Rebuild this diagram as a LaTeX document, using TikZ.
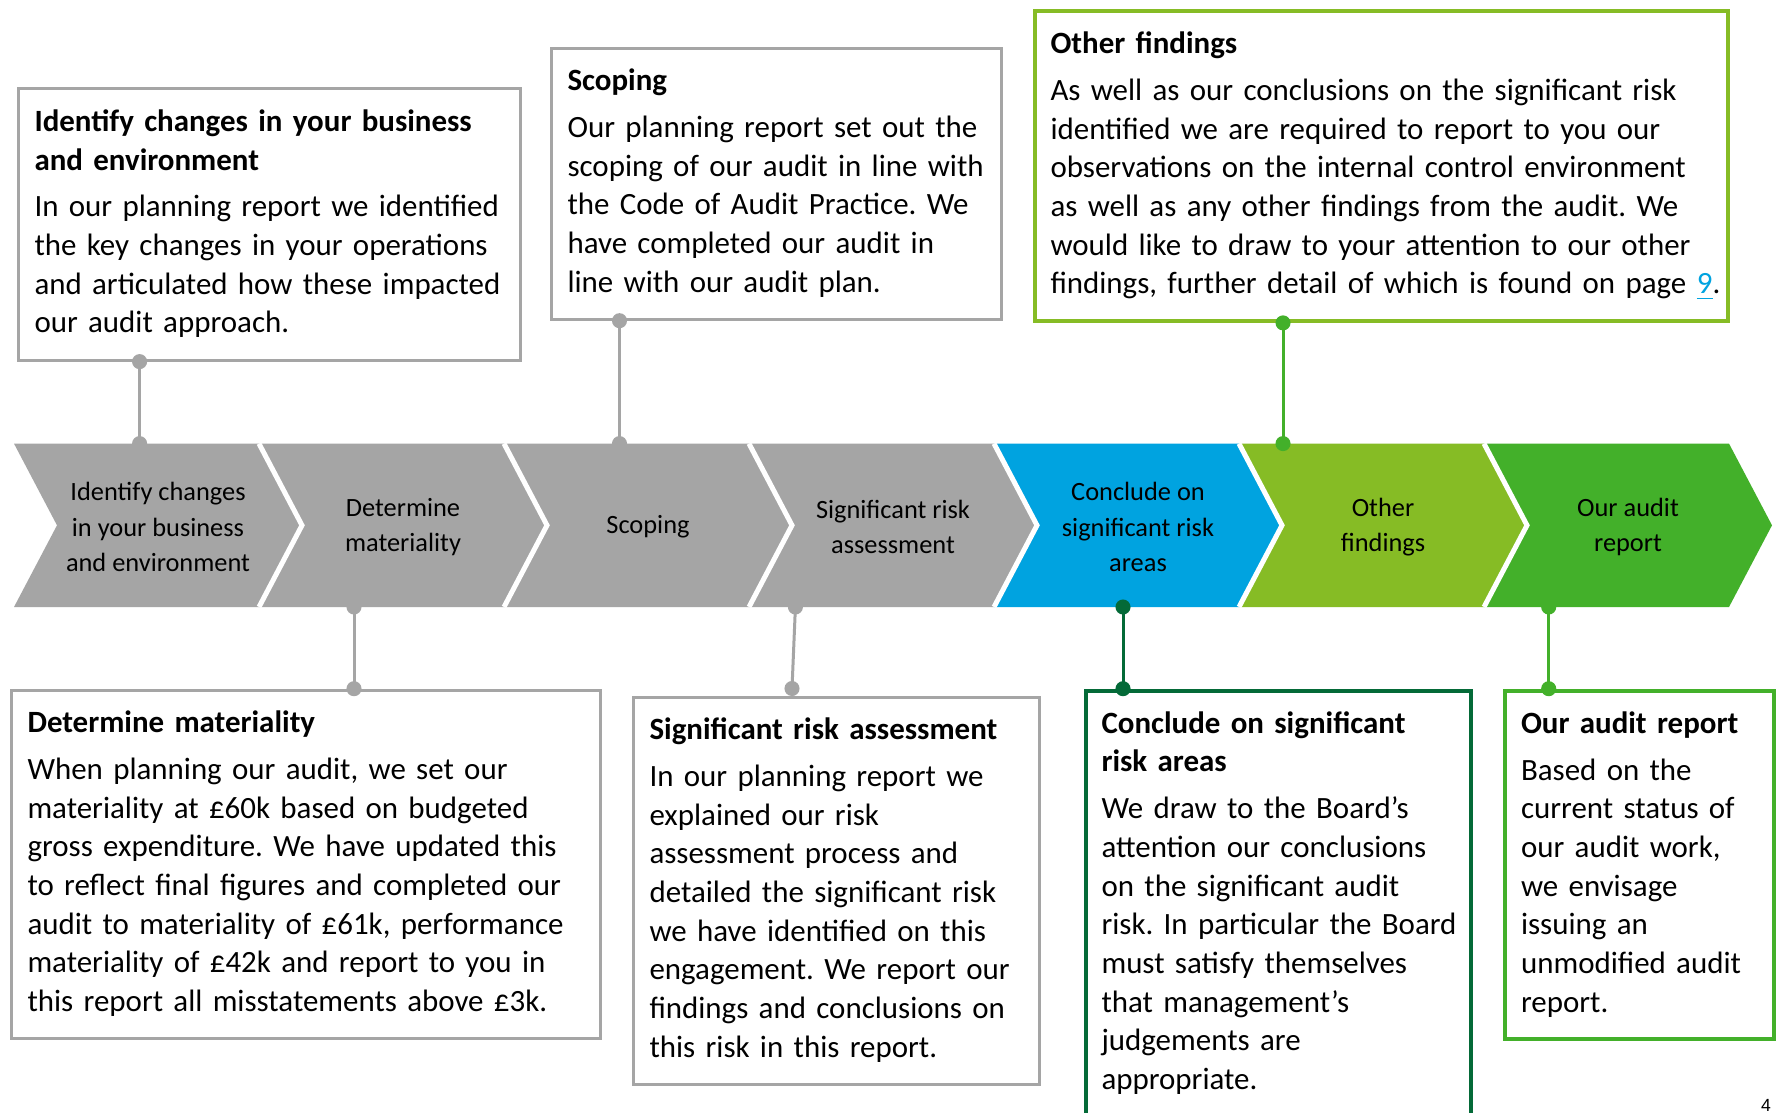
\documentclass[tikz,border=0pt]{standalone}
\usepackage{fontspec}
\setmainfont{Carlito}
\newfontfamily\pagenumfont{Liberation Sans}
\usetikzlibrary{arrows.meta,calc}
\definecolor{stagegrey}{HTML}{A5A5A5}
\definecolor{stageblue}{HTML}{00A3E0}
\definecolor{lightgreen}{HTML}{86BC25}
\definecolor{midgreen}{HTML}{43B02A}
\definecolor{darkgreen}{HTML}{046A38}
\frenchspacing
\tikzset{
  note/.style={draw=#1,line width=0.03cm,anchor=north west,align=left,
    inner xsep=0.16cm,inner ysep=0.155cm,font=\fontsize{8.8}{11}\selectfont,
    execute at begin node=\strut,execute at end node=\strut},
  greennote/.style={note=#1,line width=0.04cm},
  stage/.style={align=center,font=\fontsize{7.5}{10}\selectfont},
  link/.style={draw=#1,line width=0.03cm,
    {Circle[length=0.15cm]}-{Circle[length=0.15cm]},
    shorten <=-0.075cm,shorten >=-0.075cm}
}

\begin{document}
\begin{tikzpicture}[x=0.01cm,y=-0.01cm]
  \path[use as bounding box,fill=white] (0,0) rectangle (1779,1112);

  % process chevrons
  \foreach \i/\col/\txt in {0/stagegrey/{Identify changes\\in your business\\and environment},
      1/stagegrey/{Determine\\materiality},2/stagegrey/Scoping,
      3/stagegrey/{Significant risk\\assessment},4/stageblue/{Conclude on\\significant risk\\areas},
      5/lightgreen/{Other\\findings},6/midgreen/{Our audit\\report}}{
    \fill[\col] (14+245*\i,443.6) -- ++(245,0) -- ++(43,81.7) -- ++(-43,81.7)
      -- ++(-245,0) -- ++(43,-81.7) -- cycle;
    \node[stage] (stage\i) at (158+245*\i,527) {\txt};
  }
  \foreach \i in {0,...,5}
    \draw[white,line width=0.05cm] (259+245*\i,443.6) -- ++(43,81.7) -- ++(-43,81.7);
  \coordinate (bandN) at (0,443.6);
  \coordinate (bandS) at (0,607);

  % boxes above the band
  \node[note=stagegrey,text width=4.695cm] (idbox) at (17,87.4)
    {{\bfseries Identify changes in your business\\and environment}\\[2.3pt]
     In our planning report we identified\\the key changes in your operations\\
     and articulated how these impacted\\our audit approach.};
  \node[note=stagegrey,text width=4.176cm] (scopebox) at (550,46.5)
    {{\bfseries Scoping}\\[2.3pt]
     Our planning report set out the\\scoping of our audit in line with\\
     the Code of Audit Practice. We\\have completed our audit in\\line with our audit plan.};
  \node[greennote=lightgreen,text width=6.613cm] (otherbox) at (1032.5,9)
    {{\bfseries Other findings}\\[2.3pt]
     As well as our conclusions on the significant risk\\identified we are required to report to you our\\
     observations on the internal control environment\\as well as any other findings from the audit. We\\
     would like to draw to your attention to our other\\
     \mbox{findings, further detail of which is found on page \textcolor{stageblue}{\underline{9}}.}};

  % boxes below the band
  \node[note=stagegrey,text width=5.57cm] (matbox) at (10,688.7)
    {{\bfseries Determine materiality}\\[2.3pt]
     When planning our audit, we set our\\materiality at £60k based on budgeted\\
     gross expenditure. We have updated this\\to reflect final figures and completed our\\
     audit to materiality of £61k, performance\\materiality of £42k and report to you in\\
     this report all misstatements above £3k.};
  \node[note=stagegrey,text width=3.74cm] (riskbox) at (632,695.5)
    {{\bfseries Significant risk assessment}\\[2.3pt]
     In our planning report we\\explained our risk\\assessment process and\\
     detailed the significant risk\\we have identified on this\\engagement. We report our\\
     findings and conclusions on\\this risk in this report.};
  \node[greennote=darkgreen,text width=3.535cm] (concbox) at (1083.5,688.7)
    {{\bfseries Conclude on significant\\risk areas}\\[2.3pt]
     We draw to the Board’s\\attention our conclusions\\on the significant audit\\
     \mbox{risk. In particular the Board}\\must satisfy themselves\\that management’s\\
     judgements are\\appropriate.};
  \node[greennote=midgreen,text width=2.37cm] (reportbox) at (1503,688.7)
    {{\bfseries Our audit report}\\[2.3pt]
     Based on the\\current status of\\our audit work,\\we envisage\\issuing an\\
     unmodified audit\\report.};

  % connectors
  \coordinate (idlink) at ($(idbox.south west)+(122.6,0)$);
  \coordinate (scopelink) at ($(scopebox.south west)+(69.5,0)$);
  \coordinate (otherlink) at ($(otherbox.south west)+(250.5,0)$);
  \coordinate (matlink) at ($(matbox.north west)+(344,0)$);
  \coordinate (risklink) at ($(riskbox.north west)+(160,-7)$);
  \coordinate (risktop) at ($(risklink |- bandS)+(3.4,0)$);
  \coordinate (conclink) at ($(concbox.north west)+(39.5,0)$);
  \coordinate (reportlink) at ($(reportbox.north west)+(45.7,0)$);
  \draw[link=stagegrey] (idlink) -- (idlink |- bandN);
  \draw[link=stagegrey] (scopelink) -- (scopelink |- bandN);
  \draw[link=midgreen] (otherlink) -- (otherlink |- bandN);
  \draw[link=stagegrey] (matlink |- bandS) -- (matlink);
  \draw[link=stagegrey] (risktop) -- (risklink);
  \draw[link=darkgreen] (conclink |- bandS) -- (conclink);
  \draw[link=midgreen] (reportlink |- bandS) -- (reportlink);

  \node[font=\pagenumfont\fontsize{5}{6}\selectfont] (pagenum) at (1766,1105) {4};
\end{tikzpicture}
\end{document}
